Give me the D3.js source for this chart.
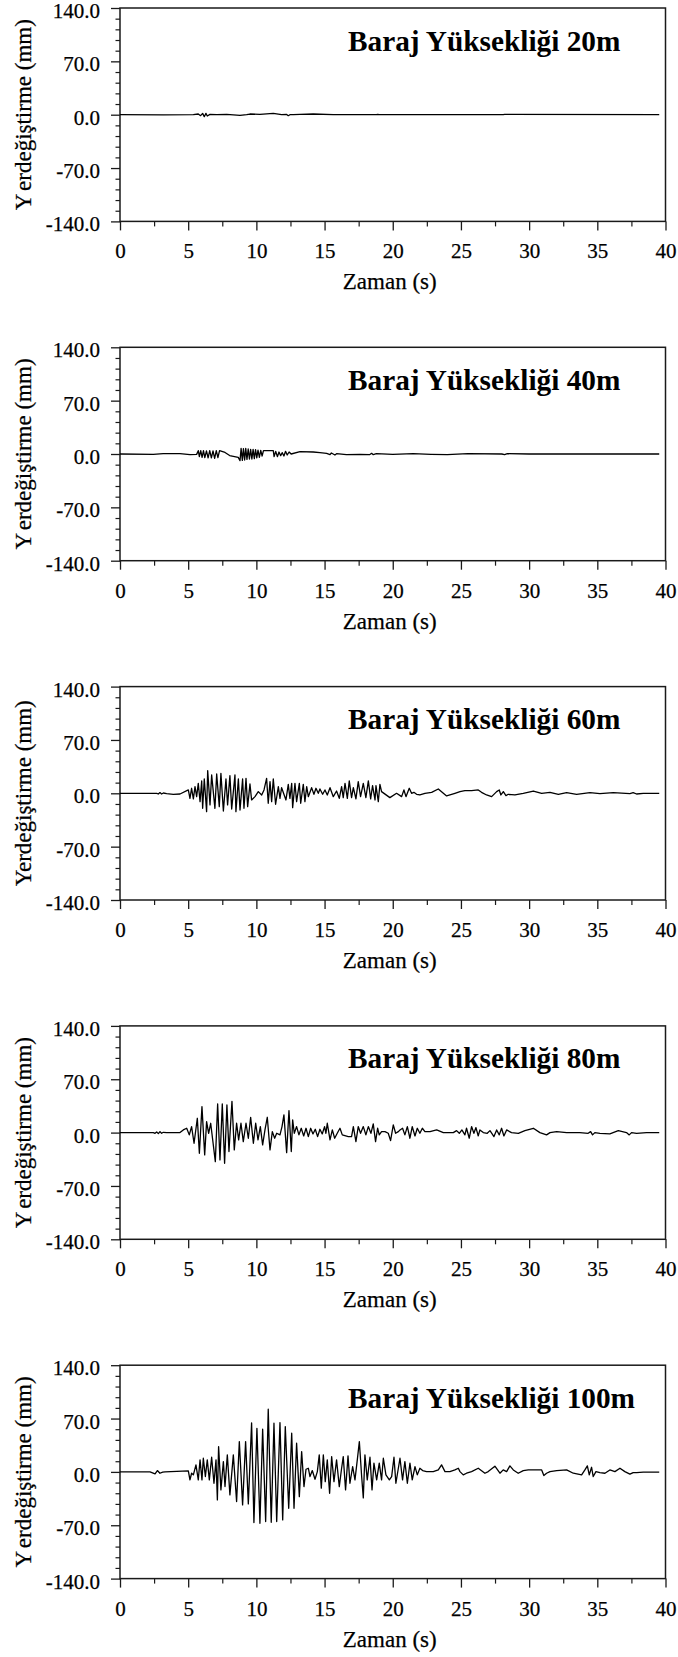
<!DOCTYPE html>
<html>
<head>
<meta charset="utf-8">
<script src="https://cdn.jsdelivr.net/npm/d3@7"></script>
<style>
  html, body { margin: 0; padding: 0; background: #fff; }
  svg { display: block; }
  text { font-family: "Liberation Serif", "Times New Roman", "DejaVu Serif", serif; fill: #000; }
  text.reg { stroke: #000; stroke-width: 0.25px; }
</style>
</head>
<body>
<svg id="chart" width="678" height="1657"></svg>
<script>
// ---------------- DATA ----------------
const titles = ["Baraj Yüksekliği 20m", "Baraj Yüksekliği 40m", "Baraj Yüksekliği 60m", "Baraj Yüksekliği 80m", "Baraj Yüksekliği 100m"];
const xLabel = "Zaman (s)";
const yLabel = "Yerdeğiştirme (mm)";
const xTickValues = [0, 5, 10, 15, 20, 25, 30, 35, 40];
const xMinorTicks = [2.5, 7.5, 12.5, 17.5, 22.5, 27.5, 32.5, 37.5];
const yTickValues = [-140, -70, 0, 70, 140];
const yMinorTicks = [-126, -112, -98, -84, -56, -42, -28, -14, 14, 28, 42, 56, 84, 98, 112, 126];

// 20 m
const t20 = [0, 3.18, 5.38, 5.74, 5.91, 6.06, 6.18, 6.30, 6.40, 6.60, 7.09, 7.82, 8.80, 9.29, 9.53, 10.26, 11.24, 11.85, 12.22, 12.34, 12.46, 12.71, 13.2, 14.17, 15.64, 18.8, 18.9, 19.0, 28.1, 28.2, 39.54];
const d20 = [0, -0.2, 0, 0.9, -1.3, 1.75, -2.6, 1.75, -1.75, 0.4, 0, 0.4, -0.9, 0, 0.9, 0.4, 1.75, 0, 0.4, -1.3, 0, 0, 0.4, 0.9, 0, 0, 0.5, 0, 0, 0.4, 0];

// 40 m
const t40 = [0, 2.44, 3.17, 4.4, 5.13, 5.62,
  5.74, 5.82, 5.92, 6.02, 6.12, 6.22, 6.34, 6.46, 6.58, 6.70, 6.82, 6.94, 7.06, 7.18, 7.30,
  7.7, 8.04, 8.67,
  8.80, 8.88, 8.97, 9.05, 9.14, 9.22, 9.31, 9.40, 9.49, 9.58, 9.67, 9.76, 9.85, 9.94, 10.03, 10.12, 10.22, 10.32, 10.42, 10.52,
  11.24,
  11.30, 11.42, 11.54, 11.66, 11.78, 11.90, 12.02, 12.14, 12.26, 12.40, 12.55,
  13.2, 14.17, 14.66, 15.15, 15.4, 15.5, 15.76, 15.88, 16.6, 17.6, 18.3, 18.45, 18.57, 18.8, 20.0,
  21.5, 22.8, 24.0, 25.5, 28.0, 28.2, 28.4, 30.0, 39.54];
const d40 = [0, -0.5, 0.5, 0.5, -0.9, -0.5,
  4.4, -3.5, 4.4, -4.4, 4.4, -4.8, 4.0, -5.2, 4.4, -5.2, 4.0, -5.7, 4.4, -4.8, 4.4,
  2.0, -2.0, -4.4,
  -8.7, 7.4, -8.3, 7.0, -7.9, 7.4, -7.0, 6.6, -6.6, 6.1, -6.6, 6.1, -6.1, 5.7, -5.2, 5.2, -4.4, 4.8, -2.6, 4.4,
  4.4,
  -3.5, 3.5, -3.5, 2.6, -2.2, 1.75, -2.6, 3.5, -1.3, 2.6, 0,
  3.0, 2.6, 1.75, 0.9, -0.9, 1.3, -1.3, 0.4, -0.9, -0.4, -0.9, 0.9, -0.9, 0.4, -0.4,
  0.4, -0.4, -0.9, 0.4, 0, -0.9, 0.4, 0, 0];

// 60 m
const t60 = [0, 2.69, 2.81, 2.93, 3.05, 3.18, 3.42, 3.91, 4.40, 5.01,
  5.13, 5.25, 5.38, 5.50, 5.62, 5.74, 5.87, 5.99, 6.06, 6.18, 6.35, 6.43, 6.60, 6.72, 6.96, 7.09, 7.28, 7.40, 7.58, 7.77,
  7.89, 8.06, 8.19, 8.43, 8.50, 8.68, 8.80, 8.99, 9.09, 9.24, 9.36, 9.53, 9.65, 9.90, 10.14, 10.39, 10.56,
  10.75, 10.87, 11.0, 11.12, 11.24, 11.41, 11.61, 11.73, 11.85, 12.17, 12.34, 12.46, 12.59, 12.66, 12.83, 12.95, 13.15,
  13.25, 13.44, 13.56, 13.69, 13.81, 14.05, 14.22, 14.37, 14.54, 14.66, 14.86, 15.03, 15.2, 15.4, 15.64, 15.88, 16.08,
  16.25, 16.37, 16.5, 16.67, 16.81, 16.98, 17.11, 17.30, 17.47, 17.64, 17.84, 18.03, 18.21, 18.38, 18.52, 18.70, 18.77,
  18.94, 19.06, 19.18, 19.79, 20.28,
  20.65, 20.82, 20.97, 21.21, 21.38, 21.55, 21.75, 21.99, 22.36, 22.85, 23.34, 23.95, 24.56, 24.93, 25.29, 25.78, 26.27,
  26.51, 26.88, 27.25, 27.62, 27.81, 27.93, 28.11, 28.3, 28.47, 28.96, 29.57, 30.31, 30.92, 31.53, 32.14, 32.75, 33.48,
  34.46, 35.19, 36.17, 37.39, 37.63, 37.88, 38.37, 39.54];
const d60 = [0, 0, -0.9, 0.9, -0.9, 0.4, -0.4, -1.3, -0.9, 4.4,
  -6.6, 6.6, -7.4, 8.75, -4.4, 13.1, -10.9, 16.2, -19.7, 18.8, -24.1, 29.75, -15.3, 24.1, -19.7, 25.4, -17.5, 26.25, -23.2, 18.8,
  -15.3, 23.2, -20.6, 24.1, -24.1, 18.8, -21.9, 18.8, -19.7, 19.7, -17.5, 12.25, -8.75, -4.4, 2.2, -2.2, 4.4,
  19.7, -13.1, 15.3, -10.9, 18.8, -14.4, 8.75, -6.6, 7.4, -8.75, 11.8, -6.6, 13.1, -18.8, 13.1, -10.9, 13.1,
  -13.1, 11.8, -10.9, 8.75, -4.4, 7.4, -1.3, 6.6, 0, 5.7, -1.3, 4.4, -2.2, 7.4, -4.4, 3.0, -6.6,
  8.75, -5.7, 13.1, -6.6, 16.2, -5.7, 7.4, -7.4, 15.3, -4.4, 13.1, -5.7, 16.2, -7.4, 10.1, -8.75, 10.1,
  -10.9, 11.8, 2.2, -5.7, 0,
  -4.4, 4.4, -4.4, 6.6, 0, 1.3, -1.3, -2.2, 0, 1.3, 5.7, -3.5, 0, 2.2, 3.5, 3.5, 4.4,
  1.3, -2.2, -4.4, 2.2, 4.4, -2.2, 2.2, -3.0, -1.3, -2.2, 0, 3.0, 0, 1.3, -1.3, 0.9, -1.3,
  0.9, -0.4, 0.9, -0.4, 0.9, -0.9, 0, 0];

// 80 m
const t80 = [0, 2.44, 2.57, 2.69, 2.81, 2.93, 3.05, 3.18, 3.42, 4.40,
  4.64, 4.89, 5.08, 5.25, 5.43, 5.67, 5.82, 6.01, 6.21, 6.35, 6.50, 6.65, 6.99, 7.16, 7.33, 7.50, 7.67, 7.84, 7.99, 8.21,
  8.38, 8.55, 8.70, 8.87, 9.04, 9.24, 9.41, 9.58, 9.78, 9.95, 10.12, 10.29, 10.46, 10.63, 10.80, 11.0, 11.17, 11.34, 11.49,
  11.73, 11.88, 12.02, 12.22, 12.39, 12.56, 12.66, 12.78, 12.95, 13.12, 13.29, 13.47, 13.64, 13.81, 13.98, 14.15, 14.32,
  14.49, 14.66, 14.83, 15.0, 15.1, 15.2, 15.4, 15.57, 15.74, 15.93, 16.13, 16.30, 16.74, 16.98, 17.11, 17.30, 17.47, 17.64,
  17.84, 18.03, 18.21, 18.40, 18.57, 18.74, 18.89, 19.01, 19.18, 19.43, 19.67, 19.84, 20.04, 20.21, 20.41,
  20.53, 20.72, 20.89, 21.07, 21.26, 21.43, 21.63, 21.80, 21.99, 22.17, 22.36, 22.73, 23.22, 23.71, 24.44, 24.68, 24.88,
  25.07, 25.29, 25.41, 25.61, 25.78, 25.95, 26.10, 26.27, 26.39, 26.64, 26.93, 27.13, 27.42, 27.62, 27.81, 27.98, 28.15,
  28.35, 28.71, 29.21, 29.69, 30.31, 30.79, 31.28, 31.53, 32.02, 32.75, 33.72, 34.33, 34.51, 34.65, 34.82, 35.19, 35.92,
  36.54, 37.14, 37.34, 37.51, 37.88, 38.61, 39.54];
const d80 = [0, 0, -0.9, 0.9, -1.3, 1.3, -0.9, 0.4, 0, 0,
  3.5, 5.7, -3.0, 7.9, -14.0, 18.8, -27.1, 34.1, -29.3, 14.4, -0.9, 12.25, -38.1, 37.6, -35.9, 37.6, -40.25, 36.3, -24.9, 41.1,
  -22.75, 12.25, -9.6, 12.25, -11.8, 12.25, -7.4, 20.1, -14.0, 12.25, -9.6, 7.9, -16.2, 3.5, 20.1, -22.75, 1.3, -7.4, -0.9,
  -3.0, 7.9, 23.2, -26.25, 28.9, -24.9, 16.6, -0.9, 7.9, -3.0, 5.7, -4.4, 5.7, -5.25, 5.7, -1.75, 4.4,
  -5.25, 4.4, -1.75, 7.9, -0.9, 12.25, -9.6, 3.5, -7.4, -0.9, 5.7, -3.0, -5.25, -5.25, 7.9, -11.8, 7.9, -0.9,
  7.9, -3.0, 7.9, -0.9, 11.4, -11.8, 5.7, -3.0, 1.3, 1.3, -0.9, -10.5, 10.1, -0.9, 1.3,
  3.5, 5.7, -3.0, 7.9, -7.4, 7.9, -4.4, 5.7, -0.9, 5.7, 1.3, 1.3, 3.5, 0, 0, 2.6, -0.9,
  3.5, -3.0, 5.7, -7.4, 7.9, -0.9, 6.6, -4.4, 3.5, 0, -0.9, 2.6, -5.25, 3.5, -3.0, 5.7, -4.4,
  3.5, 0, -0.9, 2.6, 5.7, 0, -3.0, 0, 1.3, 0, 0, -0.9, 1.3, -3.0, 0, -0.9, -1.75,
  2.6, 0, -3.0, 0, -0.9, 0, 0];

// 100 m
const t100 = [0, 2.2, 2.57, 2.74, 2.93, 3.13, 3.30, 5.01, 5.13, 5.25, 5.38,
  5.57, 5.74, 5.87, 6.01, 6.11, 6.26, 6.40, 6.55, 6.72, 6.89, 7.04, 7.14, 7.23, 7.40, 7.58, 7.70, 7.87, 8.06, 8.31,
  8.55, 8.75, 8.99, 9.21, 9.41, 9.65, 9.82, 10.04, 10.26, 10.46, 10.68, 10.87, 11.09, 11.29, 11.49, 11.73, 11.93,
  12.12, 12.37, 12.59, 12.76, 12.95, 13.15, 13.32, 13.49, 13.64, 13.81, 13.93, 14.10, 14.30, 14.47, 14.61, 14.76,
  14.91, 15.05, 15.20, 15.37, 15.52, 15.69, 15.88, 16.08, 16.25, 16.37, 16.54, 16.72, 16.86, 17.06, 17.23, 17.40,
  17.55, 17.72, 17.84, 17.96, 18.13, 18.33, 18.48, 18.62, 18.82, 19.01, 19.18, 19.31, 19.50, 19.75, 19.92, 20.09, 20.23,
  20.53, 20.72, 20.89, 21.07, 21.26, 21.43, 21.63, 21.80, 21.99, 22.19, 22.48, 22.97, 23.34, 23.58, 23.83, 24.19,
  24.56, 24.81, 24.93, 25.17, 25.41, 25.78, 26.27, 26.76, 27.00, 27.49, 27.86, 28.10, 28.35, 28.59, 28.84, 29.20,
  29.57, 29.94, 30.55, 30.92, 31.08, 31.28, 31.53, 32.02, 32.75, 33.24, 33.85, 34.09, 34.27, 34.41, 34.58, 34.70,
  34.90, 35.19, 35.56, 35.92, 36.29, 36.66, 37.02, 37.39, 37.63, 37.88, 38.37, 39.54];
const d100 = [0, 0, -2.6, 1.75, -1.75, -0.4, 0, 1.3, -10.5, -1.75, -3.9,
  9.2, -10.5, 15.75, -10.5, 17.9, -6.1, 15.75, -10.5, 19.25, -14.9, 15.75, -36.75, 33.25, -23.6, 13.6, -19.25, 22.3, -30.2, 22.3,
  -38.9, 39.8, -43.3, 39.8, -42.0, 64.3, -66.5, 57.2, -67.4, 56.0, -65.2, 82.25, -66.1, 63.9, -65.2, 64.75, -63.0,
  59.5, -47.7, 50.75, -47.7, 37.6, -32.4, 26.7, -19.25, 3.5, 4.8, -6.1, 1.75, -9.6, 0.4, 22.3, -21.4,
  22.3, -12.7, 15.75, -28.0, 20.1, -12.7, 15.75, -19.25, 4.8, 20.1, -23.6, 21.0, -14.9, 7.0, -10.5, 15.75,
  39.8, -6.1, -34.1, 22.3, -10.5, 19.25, -23.6, 11.4, -10.5, 11.4, -10.5, 17.9, -3.9, -10.5, -6.1, 19.25, -14.9,
  17.9, -10.5, 13.6, -14.9, 11.4, -10.5, 7.0, -3.9, 4.8, 1.75, 0.4, 0.4, 2.6, 9.2, 0.4, 0.4,
  2.6, 4.8, 0.4, -3.9, -1.75, 0.4, 4.8, -1.75, 0.4, 7.5, -1.75, 2.6, 0.4, 7.9, 2.6, -1.75,
  1.75, 2.6, 2.6, 2.6, -4.8, -1.75, 0.4, 1.75, 2.6, -1.75, -3.9, 2.6, 7.9, -3.9, 6.1, -6.1,
  0.4, -0.9, -1.75, 2.6, 0.4, 4.8, 0.4, -3.0, -0.9, -0.9, -0.4, -0.4];

const seriesTimes = [t20, t40, t60, t80, t100];
const seriesValues = [d20, d40, d60, d80, d100];

// ---------------- LAYOUT ----------------
const svg = d3.select("#chart");
const left = 120, right = 665.5;
const firstTop = 8, plotH = 213.4, step = 339.3;
const FONT = '"Liberation Serif", "Times New Roman", "DejaVu Serif", serif';

const x = d3.scaleLinear().domain([0, 40]).range([left, right]);

titles.forEach((title, i) => {
  const top = firstTop + step * i;
  const bottom = top + plotH;
  const y = d3.scaleLinear().domain([-140, 140]).range([bottom, top]);
  const g = svg.append("g");

  // frame
  g.append("rect")
    .attr("x", left).attr("y", top)
    .attr("width", right - left).attr("height", plotH)
    .attr("fill", "none").attr("stroke", "#1a1a1a").attr("stroke-width", 1.5);

  // y axis major
  const yAx = g.append("g").attr("transform", `translate(${left},0)`)
    .call(d3.axisLeft(y).tickValues(yTickValues).tickSize(9).tickSizeOuter(0).tickPadding(11)
      .tickFormat(d => d.toFixed(1)));
  yAx.attr("font-family", null).attr("font-size", null);
  yAx.select(".domain").remove();
  yAx.selectAll(".tick line").attr("stroke", "#1a1a1a").attr("stroke-width", 1.3);
  yAx.selectAll(".tick text")
    .attr("class", "reg")
    .attr("dy", "0.45em")
    .style("font-family", FONT)
    .style("font-size", "21px").attr("fill", "#000");

  // y axis minor
  const yMin = g.append("g").attr("transform", `translate(${left},0)`)
    .call(d3.axisLeft(y).tickValues(yMinorTicks).tickSize(4.5).tickSizeOuter(0).tickFormat(""));
  yMin.select(".domain").remove();
  yMin.selectAll(".tick line").attr("stroke", "#1a1a1a").attr("stroke-width", 1.2);

  // x axis major
  const xAx = g.append("g").attr("transform", `translate(0,${bottom})`)
    .call(d3.axisBottom(x).tickValues(xTickValues).tickSize(9).tickSizeOuter(0).tickPadding(13)
      .tickFormat(d3.format("d")));
  xAx.attr("font-family", null).attr("font-size", null);
  xAx.select(".domain").remove();
  xAx.selectAll(".tick line").attr("stroke", "#1a1a1a").attr("stroke-width", 1.3);
  xAx.selectAll(".tick text")
    .attr("class", "reg")
    .style("font-family", FONT)
    .style("font-size", "21px").attr("fill", "#000");

  // x axis minor
  const xMin = g.append("g").attr("transform", `translate(0,${bottom})`)
    .call(d3.axisBottom(x).tickValues(xMinorTicks).tickSize(5).tickSizeOuter(0).tickFormat(""));
  xMin.select(".domain").remove();
  xMin.selectAll(".tick line").attr("stroke", "#1a1a1a").attr("stroke-width", 1.2);

  // data line
  const ts = seriesTimes[i], vs = seriesValues[i];
  const pts = ts.map((t, k) => [t, vs[k]]);
  const line = d3.line().x(d => x(d[0])).y(d => y(d[1]));
  g.append("path").datum(pts)
    .attr("d", line)
    .attr("fill", "none").attr("stroke", "#000").attr("stroke-width", 1.3)
    .attr("stroke-linejoin", "round");

  // title
  g.append("text")
    .attr("x", 348).attr("y", top + 42.5)
    .style("font-family", FONT)
    .style("font-size", "29.3px").style("font-weight", "bold")
    .text(title);

  // x label
  g.append("text")
    .attr("class", "reg")
    .attr("x", (left + right) / 2 - 3).attr("y", bottom + 68)
    .attr("text-anchor", "middle")
    .style("font-family", FONT)
    .style("font-size", "23px")
    .text(xLabel);

  // y label
  const yl = g.append("text")
    .attr("class", "reg")
    .attr("transform", `translate(31,${(top + bottom) / 2}) rotate(-90)`)
    .attr("text-anchor", "middle")
    .style("font-family", FONT)
    .style("font-size", "23px");
  if (i === 2) {
    yl.text(yLabel);
  } else {
    yl.append("tspan").text(yLabel.slice(0, 1));
    yl.append("tspan").attr("dx", 5).text(yLabel.slice(1));
  }
});
</script>
</body>
</html>
